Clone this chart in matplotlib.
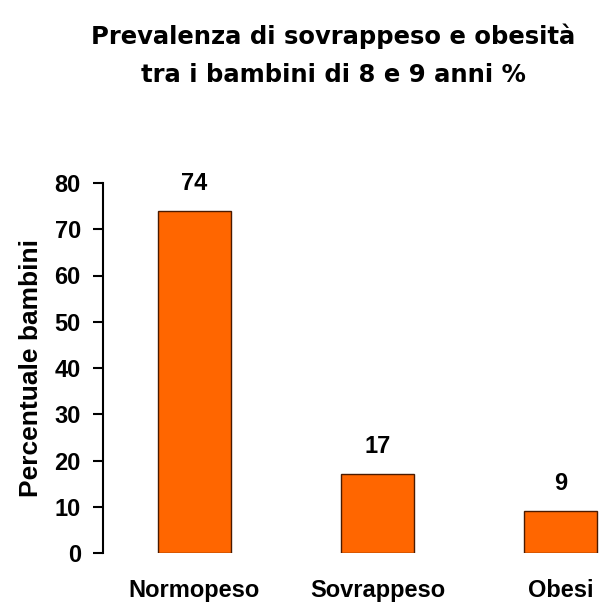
import matplotlib.pyplot as plt

categories = ['Normopeso', 'Sovrappeso', 'Obesi']
values = [74, 17, 9]
yticks = [0, 10, 20, 30, 40, 50, 60, 70, 80]

fig = plt.figure(figsize=(6, 6.05), dpi=100)
# axes spans past the right edge like in the original
ax = fig.add_axes([103 / 600, 1 - 553 / 605, 549 / 600, 370 / 605])

x = range(len(categories))
ax.bar(x, values, width=0.4, color='#FF6600', edgecolor='#4a1a00', linewidth=1)

for i, v in zip(x, values):
    ax.text(i, v + 6, str(v), ha='center', va='center',
            fontsize=17, fontweight='bold', family='Liberation Sans')

ax.set_xlim(-0.5, 2.5)
ax.set_ylim(0, 80)
ax.set_yticks(yticks)
ax.set_yticklabels([str(t) for t in yticks], fontsize=17, fontweight='bold',
                   family='Liberation Sans')
ax.tick_params(axis='y', direction='out', length=7, width=1.5, pad=9)
ax.set_xticks(list(x))
ax.set_xticklabels(categories, fontsize=17, fontweight='bold', family='Liberation Sans')
ax.tick_params(axis='x', length=0, pad=19)
for s in ['top', 'right', 'bottom']:
    ax.spines[s].set_visible(False)
ax.spines['left'].set_linewidth(1.5)

ax.set_ylabel('Percentuale bambini', fontsize=19, fontweight='bold',
              family='Liberation Sans', labelpad=8)

fig.text(333 / 600, 1 - 55 / 605, 'Prevalenza di sovrappeso e obesità\ntra i bambini di 8 e 9 anni %',
         ha='center', va='center', fontsize=17.5, fontweight='bold',
         family='DejaVu Sans', linespacing=1.75)

fig.savefig('out.png', dpi=100)
